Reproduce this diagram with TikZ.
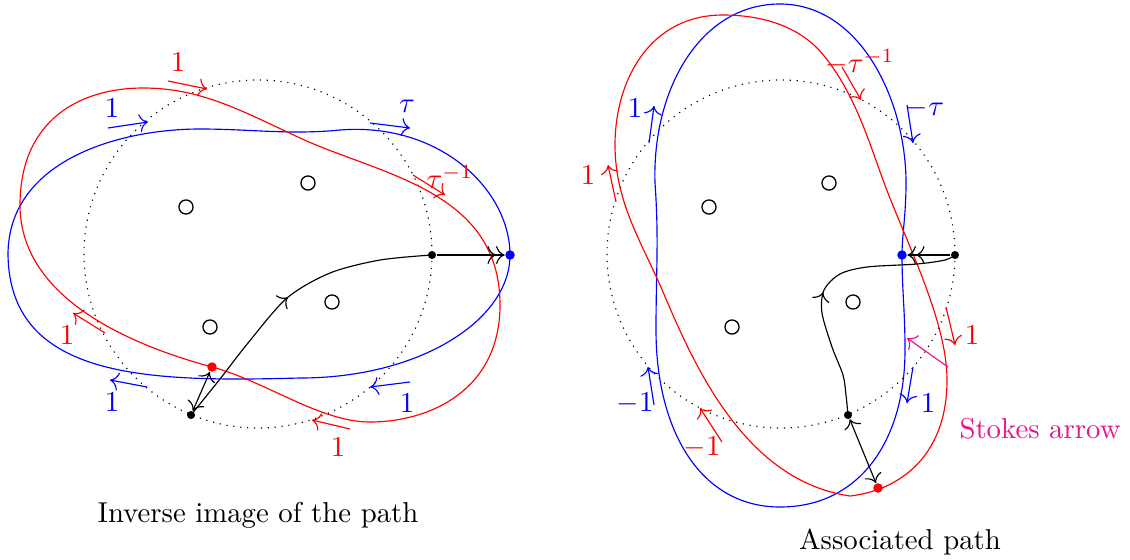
\documentclass[tikz,border=0pt]{standalone}
\usetikzlibrary{decorations.markings,arrows.meta}
\definecolor{stokes}{RGB}{230,20,140}
\begin{document}
\begin{tikzpicture}[x=0.3475pt,y=-0.3475pt,
  >={To[scale=1.2]},
  bdot/.style={circle,fill=black,inner sep=0pt,minimum size=2.8pt},
  rdot/.style={circle,fill=red,inner sep=0pt,minimum size=3.3pt},
  bldot/.style={circle,fill=blue,inner sep=0pt,minimum size=3.3pt},
  hole/.style={circle,draw=black,line width=0.45pt,inner sep=0pt,minimum size=4.9pt},
  rarr/.style={red,->},
  barr/.style={blue,->},
  midarrow/.style={postaction={decorate},decoration={markings,mark=at position #1 with {\arrow{>}}}},
]
\useasboundingbox (0,0) rectangle (1130,559);

% ---------------- left picture ----------------
\draw[dotted] (258,254) circle[radius=174];

\draw[blue] (510,255) .. controls (510,320) and (420,378) .. (300,378)
  .. controls (150,382) and (10,380) .. (8,255)
  .. controls (8,160) and (120,129) .. (200,129)
  .. controls (250,129) and (290,135) .. (340,130)
  .. controls (440,122) and (510,190) .. (510,255) -- cycle;

\draw[red] (212,367) .. controls (112,340) and (20,290) .. (20,205)
  .. controls (20,120) and (80,88) .. (143,88)
  .. controls (200,88) and (240,110) .. (300,138)
  .. controls (380,175) and (500,190) .. (500,305)
  .. controls (500,390) and (430,422) .. (370,422)
  .. controls (320,422) and (265,381) .. (212,367) -- cycle;

\node[hole] (lh1) at (186,207) {};
\node[hole] (lh2) at (308,183) {};
\node[hole] (lh3) at (210,327) {};
\node[hole] (lh4) at (332,302) {};

\node[bdot] (lb1) at (191,415) {};
\node[bdot] (lb2) at (432,255) {};
\node[rdot] (lr) at (212,367) {};
\node[bldot] (lbl) at (510,255) {};

\draw[midarrow=0.5] plot[smooth] coordinates {(191,415) (220,379) (248,343) (287,298) (330,273) (380,260) (432,255)};
\draw[->>] (lb2) -- (lbl);
\draw[<->] (lb1) -- (lr);

\draw[rarr] (168,81) -- (207,89);
\node[red] at (178,62) {$1$};
\draw[barr] (108,128) -- (148,122);
\node[blue] at (112,108) {$1$};
\draw[barr] (370,123) -- (410,128);
\node[blue] at (407,106) {$\tau$};
\draw[rarr] (413,175) -- (445,195);
\node[red] at (450,177) {$\tau^{-1}$};
\draw[rarr] (105,333) -- (73,313);
\node[red] at (67,335) {$1$};
\draw[barr] (147,387) -- (110,380);
\node[blue] at (112,402) {$1$};
\draw[barr] (410,382) -- (370,387);
\node[blue] at (407,403) {$1$};
\draw[rarr] (350,429) -- (312,420);
\node[red] at (338,447) {$1$};

\node at (258,515) {Inverse image of the path};

% ---------------- right picture ----------------
\draw[dotted] (781,254) circle[radius=174];

\draw[blue] (780,4) .. controls (860,4) and (906,100) .. (906,183)
  .. controls (906,215) and (902,235) .. (902,255)
  .. controls (902,290) and (905,310) .. (905,350)
  .. controls (905,440) and (860,507) .. (780,507)
  .. controls (700,507) and (656,430) .. (656,330)
  .. controls (656,270) and (659,240) .. (655,183)
  .. controls (652,90) and (700,4) .. (780,4) -- cycle;

\draw[red] (723,15) .. controls (650,15) and (615,80) .. (615,145)
  .. controls (615,200) and (640,240) .. (660,285)
  .. controls (690,355) and (740,480) .. (850,496)
  .. controls (895,491) and (947,460) .. (947,380)
  .. controls (947,320) and (905,240) .. (883,180)
  .. controls (868,139) and (855,95) .. (825,57)
  .. controls (800,25) and (760,15) .. (723,15) -- cycle;

\node[hole] (rh1) at (709,207) {};
\node[hole] (rh2) at (829,183) {};
\node[hole] (rh3) at (732,327) {};
\node[hole] (rh4) at (853,302) {};

\node[bdot] (rb1) at (848,415) {};
\node[bdot] (rb2) at (955,255) {};
\node[rdot] (rr) at (878,488) {};
\node[bldot] (rbl) at (902,255) {};

\draw[midarrow=0.47] plot[smooth] coordinates {(848,415) (846,395) (843,375) (832,347) (822,313) (824,290) (840,274) (867,267) (917,264) (945,260) (955,255)};
\draw[->>] (rb2) -- (rbl);
\draw[<->] (rb1) -- (rr);

\draw[barr] (649,143) -- (654,106);
\node[blue] at (635,108) {$1$};
\draw[rarr] (616,202) -- (608,165);
\node[red] at (588,175) {$1$};
\draw[rarr] (842,67) -- (861,100);
\node[red] at (860,62) {$-\tau^{-1}$};
\draw[barr] (907,105) -- (913,143);
\node[blue] at (925,108) {$-\tau$};
\draw[rarr] (946,307) -- (955,345);
\node[red] at (972,335) {$1$};
\draw[barr] (913,367) -- (907,403);
\node[blue] at (928,403) {$1$};
\draw[barr] (654,405) -- (648,367);
\node[blue] at (635,403) {$-1$};
\draw[rarr] (722,442) -- (700,408);
\node[red] at (702,447) {$-1$};

\draw[stokes,->] (948,367) -- (907,338);
\node[stokes] at (1040,429) {Stokes arrow};

\node at (900,542) {Associated path};
\end{tikzpicture}
\end{document}
